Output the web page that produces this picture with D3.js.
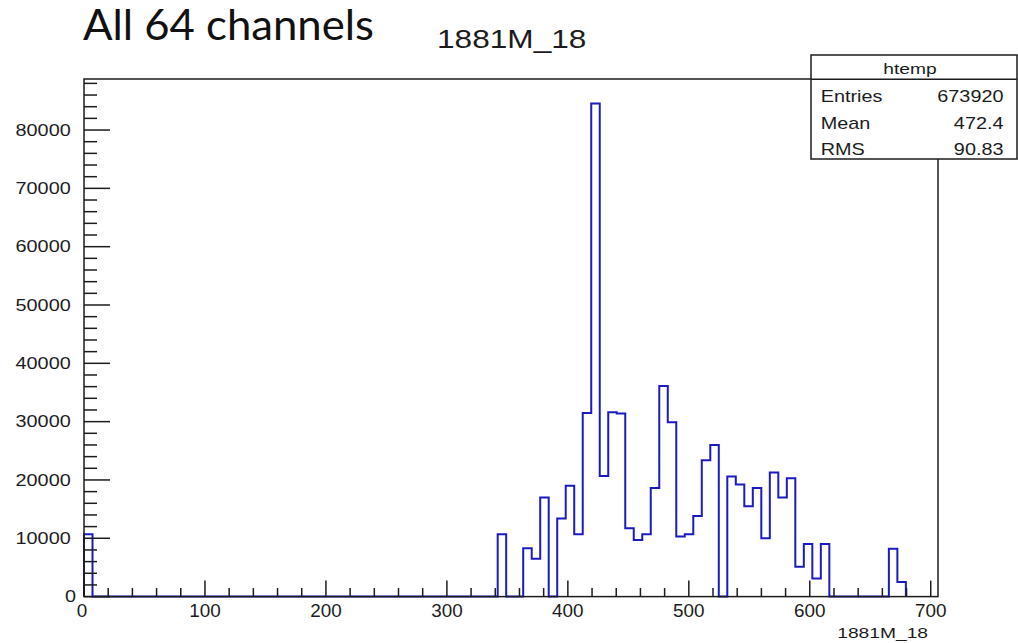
<!DOCTYPE html>
<html><head><meta charset="utf-8">
<script src="https://cdn.jsdelivr.net/npm/d3@7"></script>
<style>
html,body{margin:0;padding:0;background:#fff;}
svg{display:block;}
text{font-family:"Liberation Sans",Arial,sans-serif;fill:#1c1c1c;}
</style></head><body>
<svg id="chart" width="1018" height="643"></svg>
<script>
// Histogram of 1881M_18 over all 64 channels
const slideTitle = "All 64 channels";
const histName = "htemp";
const varName = "1881M_18";
const statLabels = ["Entries", "Mean", "RMS"];
const statValues = ["673920", "472.4", "90.83"];

// bin contents
const binWidth = 7.03;
const spikeLow = 0;
const spikeCount = 10700;
const clusterLow = 342.0;
const clusterCounts = [
  10700, 0, 0, 8300, 6500, 17000, 0, 13400, 19000, 10700,
  31500, 84570, 20700, 31600, 31400, 11700, 9700, 10700, 18600, 36100,
  29900, 10300, 10700, 13800, 23400, 26000, 0, 20600, 19200, 15500,
  18600, 10000, 21300, 17000, 20300, 5100, 9000, 3100, 9000, 0,
  0, 0, 0, 0, 0, 0, 8200, 2500
];

// axes
const xDomain = [0, 706];
const yDomain = [0, 88750];
const xTicks = [0, 100, 200, 300, 400, 500, 600, 700];
const yTicks = [0, 10000, 20000, 30000, 40000, 50000, 60000, 70000, 80000];
const xMinorStep = 20;
const yMinorStep = 2000;

const svg = d3.select("#chart");
const frame = {left: 84, top: 79, right: 938, bottom: 596.6};

const x = d3.scaleLinear().domain(xDomain).range([frame.left, frame.right]);
const y = d3.scaleLinear().domain(yDomain).range([frame.bottom, frame.top]);

const ink = "#1c1c1c";
const histColor = "#1b1bbf";

// outline points: lower edge + content, stepped
const pts = [[spikeLow, 0], [spikeLow, spikeCount], [spikeLow + binWidth, 0]];
clusterCounts.forEach((c, i) => pts.push([clusterLow + i * binWidth, c]));
pts.push([clusterLow + clusterCounts.length * binWidth, 0]);

const line = d3.line()
  .x(d => x(d[0]))
  .y(d => y(d[1]))
  .curve(d3.curveStepAfter);

svg.append("path")
  .attr("d", line(pts))
  .attr("fill", "none")
  .attr("stroke", histColor)
  .attr("stroke-width", 2)
  .attr("stroke-linejoin", "miter");

// frame
svg.append("rect")
  .attr("x", frame.left).attr("y", frame.top)
  .attr("width", frame.right - frame.left)
  .attr("height", frame.bottom - frame.top)
  .attr("fill", "none").attr("stroke", ink).attr("stroke-width", 1.5);

// y axis ticks
const yMinor = d3.range(yDomain[0], yDomain[1], yMinorStep).filter(v => v % 10000 !== 0);
svg.append("g").selectAll("line").data(yMinor).join("line")
  .attr("x1", frame.left).attr("x2", frame.left + 13)
  .attr("y1", d => y(d)).attr("y2", d => y(d))
  .attr("stroke", ink).attr("stroke-width", 1.5);
svg.append("g").selectAll("line").data(yTicks).join("line")
  .attr("x1", frame.left).attr("x2", frame.left + 26)
  .attr("y1", d => y(d)).attr("y2", d => y(d))
  .attr("stroke", ink).attr("stroke-width", 1.5);
svg.append("g").selectAll("text").data(yTicks).join("text")
  .attr("transform", d => `translate(${d === 0 ? 76 : 70.7},${y(d) + 5.7}) scale(1.24,1)`)
  .attr("text-anchor", "end")
  .style("font-size", "16px")
  .text(d => d);

// x axis ticks
const xMinor = d3.range(xDomain[0], xTicks[xTicks.length - 1] + 1, xMinorStep).filter(v => v % 100 !== 0);
svg.append("g").selectAll("line").data(xMinor).join("line")
  .attr("x1", d => x(d)).attr("x2", d => x(d))
  .attr("y1", frame.bottom).attr("y2", frame.bottom - 8.5)
  .attr("stroke", ink).attr("stroke-width", 1.5);
svg.append("g").selectAll("line").data(xTicks).join("line")
  .attr("x1", d => x(d)).attr("x2", d => x(d))
  .attr("y1", frame.bottom).attr("y2", frame.bottom - 16)
  .attr("stroke", ink).attr("stroke-width", 1.5);
svg.append("g").selectAll("text").data(xTicks).join("text")
  .attr("transform", d => `translate(${x(d) - (d === 0 ? 2 : 0)},${617}) scale(1.05,1)`)
  .attr("text-anchor", "middle")
  .style("font-size", "18px")
  .text(d => d);

// x axis title
svg.append("text")
  .attr("transform", `translate(928,638) scale(1.24,1)`)
  .attr("text-anchor", "end")
  .style("font-size", "15.5px")
  .text(varName);

// pad title
svg.append("text")
  .attr("transform", `translate(437,48) scale(1.24,1)`)
  .style("font-size", "25.5px")
  .text(varName);

// slide heading
svg.append("text")
  .attr("x", 83).attr("y", 40)
  .attr("textLength", 291).attr("lengthAdjust", "spacingAndGlyphs")
  .style("font-family", "Lato, 'Open Sans', sans-serif")
  .style("font-size", "42px")
  .style("fill", "#111")
  .text(slideTitle);

// statistics box
const box = {x: 811, y: 55, w: 206, h: 104, head: 79.3};
svg.append("rect")
  .attr("x", box.x).attr("y", box.y).attr("width", box.w).attr("height", box.h)
  .attr("fill", "#fff").attr("stroke", ink).attr("stroke-width", 1.5);
svg.append("line")
  .attr("x1", box.x).attr("x2", box.x + box.w)
  .attr("y1", box.head).attr("y2", box.head)
  .attr("stroke", ink).attr("stroke-width", 1.5);
svg.append("text")
  .attr("transform", `translate(${box.x + 99},73.5) scale(1.24,1)`)
  .attr("text-anchor", "middle")
  .style("font-size", "15.5px")
  .text(histName);
const rowY = [102.4, 129, 154.7];
svg.append("g").selectAll("text").data(statLabels).join("text")
  .attr("transform", (d, i) => `translate(820.7,${rowY[i]}) scale(1.24,1)`)
  .style("font-size", "16px")
  .text(d => d);
svg.append("g").selectAll("text").data(statValues).join("text")
  .attr("transform", (d, i) => `translate(1003.5,${rowY[i]}) scale(1.24,1)`)
  .attr("text-anchor", "end")
  .style("font-size", "16px")
  .text(d => d);
</script>
</body></html>
